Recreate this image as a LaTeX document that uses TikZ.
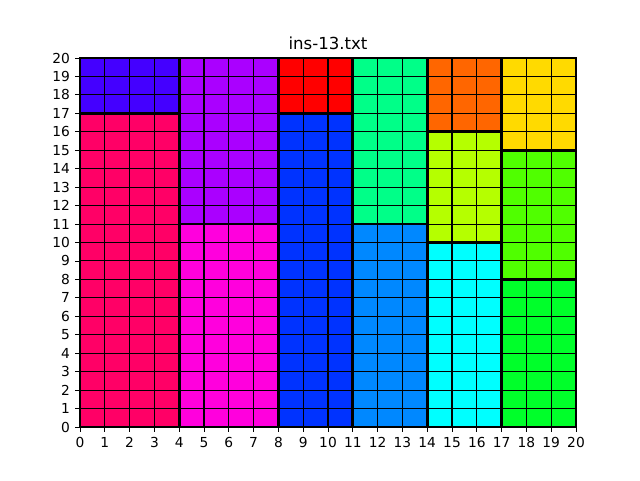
\documentclass[tikz,border=0pt]{standalone}
\usepackage{fontspec}
\setmainfont{DejaVu Sans}
\usetikzlibrary{positioning}

\definecolor{binA}{HTML}{4400FF}
\definecolor{binB}{HTML}{FF0066}
\definecolor{binC}{HTML}{AA00FF}
\definecolor{binD}{HTML}{FF00DD}
\definecolor{binE}{HTML}{FF0000}
\definecolor{binF}{HTML}{0033FF}
\definecolor{binG}{HTML}{00FF88}
\definecolor{binH}{HTML}{0088FF}
\definecolor{binI}{HTML}{FF6600}
\definecolor{binJ}{HTML}{B5FF00}
\definecolor{binK}{HTML}{00FFFF}
\definecolor{binL}{HTML}{FFDA00}
\definecolor{binM}{HTML}{50FF00}
\definecolor{binN}{HTML}{00FF2A}

\begin{document}
\begin{tikzpicture}[
  x=0.62cm, y=0.46125cm,
  block/.style={draw=black, line width=2pt},
  gridline/.style={black, line width=0.75pt},
  tickmark/.style={black, line width=0.6pt},
  ticklabel/.style={font=\fontsize{9.8}{11}\selectfont, inner sep=0pt},
  titlelabel/.style={font=\fontsize{11.8}{14}\selectfont, inner sep=0pt},
]
\useasboundingbox (-2cm,-1.325cm) rectangle (14cm,10.675cm);

% Packed rectangles
\foreach \xa/\ya/\xb/\yb/\col in {0/17/4/20/binA, 0/0/4/17/binB,
    4/11/8/20/binC, 4/0/8/11/binD, 8/17/11/20/binE, 8/0/11/17/binF,
    11/11/14/20/binG, 11/0/14/11/binH, 14/16/17/20/binI, 14/10/17/16/binJ,
    14/0/17/10/binK, 17/15/20/20/binL, 17/8/20/15/binM, 17/0/20/8/binN}
  \fill[\col] (\xa,\ya) rectangle (\xb,\yb);

% Unit grid
\foreach \i in {1,...,19} {
  \draw[gridline] (\i,0) -- (\i,20);
  \draw[gridline] (0,\i) -- (20,\i);
}

% Rectangle borders
\foreach \xa/\ya/\xb/\yb in {0/17/4/20, 0/0/4/17, 4/11/8/20, 4/0/8/11,
    8/17/11/20, 8/0/11/17, 11/11/14/20, 11/0/14/11, 14/16/17/20,
    14/10/17/16, 14/0/17/10, 17/15/20/20, 17/8/20/15, 17/0/20/8}
  \draw[block] (\xa,\ya) rectangle (\xb,\yb);

% Axes
\coordinate (origin) at (0,0);
\coordinate (topmid) at (10,20);
\foreach \i in {0,...,20} {
  \draw[tickmark] (\i,0) -- ++(0,-0.12cm) node[below=0.12cm, ticklabel] {\i};
  \draw[tickmark] (0,\i) -- ++(-0.12cm,0) node[left=0.12cm, ticklabel] {\i};
}

% Title
\node[titlelabel, above=0.21cm of topmid] (title) {ins-13.txt};
\end{tikzpicture}
\end{document}
